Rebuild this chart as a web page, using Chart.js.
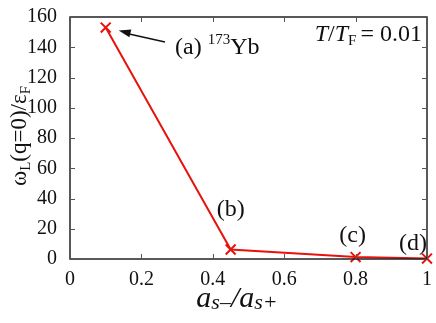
<!DOCTYPE html>
<html>
<head>
<meta charset="utf-8">
<script src="https://cdn.jsdelivr.net/npm/chart.js@4/dist/chart.umd.min.js"></script>
<style>
  html, body { margin: 0; padding: 0; background: #fff; }
  #wrap { width: 436px; height: 323px; }
</style>
</head>
<body>
<div id="wrap"><canvas id="chart" width="436" height="323"></canvas></div>
<script>
// data
const ratio = [0.1, 0.45, 0.8, 1.0];
const omegaL = [153, 6.3, 1.3, 0.3];
const xTicks = [0, 0.2, 0.4, 0.6, 0.8, 1];
const yTicks = [0, 20, 40, 60, 80, 100, 120, 140, 160];
const pointLabels = ['(a)', '(b)', '(c)', '(d)'];

const SERIF = '"Liberation Serif", "DejaVu Serif", serif';
const RED = '#e8120c';

// text helper: draws a run of pieces, each with its own font and vertical shift
function drawRuns(ctx, runs, x, y, align) {
    let total = 0;
    runs.forEach(r => { ctx.font = r.font; total += ctx.measureText(r.text).width + (r.gap || 0); });
    let cx = align === 'center' ? x - total / 2 : (align === 'right' ? x - total : x);
    ctx.textAlign = 'left';
    ctx.textBaseline = 'alphabetic';
    runs.forEach(r => {
        ctx.font = r.font;
        ctx.fillText(r.text, cx, y + (r.dy || 0));
        cx += ctx.measureText(r.text).width + (r.gap || 0);
    });
}

const decorations = {
    id: 'decorations',
    afterDraw(chart) {
        const { ctx, chartArea: a, scales: { x, y } } = chart;
        ctx.save();
        // frame
        ctx.strokeStyle = '#222';
        ctx.lineWidth = 1.5;
        ctx.strokeRect(a.left, a.top, a.right - a.left, a.bottom - a.top);
        // inward ticks
        ctx.lineWidth = 1;
        ctx.strokeStyle = '#555';
        xTicks.forEach(v => {
            const px = Math.round(x.getPixelForValue(v)) + 0.5;
            ctx.beginPath();
            ctx.moveTo(px, a.bottom); ctx.lineTo(px, a.bottom - 5);
            ctx.moveTo(px, a.top); ctx.lineTo(px, a.top + 5);
            ctx.stroke();
        });
        yTicks.forEach(v => {
            const py = Math.round(y.getPixelForValue(v)) + 0.5;
            ctx.beginPath();
            ctx.moveTo(a.left, py); ctx.lineTo(a.left + 5, py);
            ctx.moveTo(a.right, py); ctx.lineTo(a.right - 5, py);
            ctx.stroke();
        });

        ctx.fillStyle = '#111';
        // point labels
        const big = '24px ' + SERIF;
        const sup = '15px ' + SERIF;
        drawRuns(ctx, [
            { text: pointLabels[0] + ' ', font: big },
            { text: '173', font: sup, dy: -10 },
            { text: 'Yb', font: big }
        ], 175, 54, 'left');
        ctx.font = big;
        ctx.textAlign = 'center';
        ctx.fillText(pointLabels[1], x.getPixelForValue(ratio[1]), 216);
        ctx.fillText(pointLabels[2], x.getPixelForValue(ratio[2]) - 3, 242);
        ctx.fillText(pointLabels[3], x.getPixelForValue(ratio[3]) - 14, 250);

        // arrow to point (a)
        const hx = x.getPixelForValue(ratio[0]) + 13, hy = y.getPixelForValue(omegaL[0]) + 3;
        const tx = 165, ty = 42;
        ctx.strokeStyle = '#111';
        ctx.lineWidth = 1.5;
        ctx.beginPath(); ctx.moveTo(tx, ty); ctx.lineTo(hx + 6, hy + 2.5); ctx.stroke();
        const ang = Math.atan2(hy - ty, hx - tx);
        ctx.beginPath();
        ctx.moveTo(hx, hy);
        ctx.lineTo(hx - 12 * Math.cos(ang) + 4 * Math.sin(ang), hy - 12 * Math.sin(ang) - 4 * Math.cos(ang));
        ctx.lineTo(hx - 12 * Math.cos(ang) - 4 * Math.sin(ang), hy - 12 * Math.sin(ang) + 4 * Math.cos(ang));
        ctx.closePath();
        ctx.fill();

        // temperature note
        drawRuns(ctx, [
            { text: 'T', font: 'italic 24px ' + SERIF },
            { text: '/', font: '24px ' + SERIF },
            { text: 'T', font: 'italic 24px ' + SERIF },
            { text: 'F', font: '15px ' + SERIF, dy: 4, gap: 4 },
            { text: '= 0.01', font: '24px ' + SERIF }
        ], 422, 41, 'right');

        // x axis title
        drawRuns(ctx, [
            { text: 'a', font: 'italic 30px ' + SERIF },
            { text: 's–', font: 'italic 22px ' + SERIF, dy: 2 },
            { text: '/', font: 'italic 30px ' + SERIF },
            { text: 'a', font: 'italic 30px ' + SERIF },
            { text: 's+', font: 'italic 22px ' + SERIF, dy: 2 }
        ], 237, 307, 'center');

        // y axis title
        ctx.translate(26, 136);
        ctx.rotate(-Math.PI / 2);
        drawRuns(ctx, [
            { text: 'ω', font: '23px ' + SERIF },
            { text: 'L', font: '15px ' + SERIF, dy: 4 },
            { text: '(q=0)/ε', font: '23px ' + SERIF },
            { text: 'F', font: '15px ' + SERIF, dy: 4 }
        ], 0, 0, 'center');
        ctx.restore();
    }
};

new Chart(document.getElementById('chart'), {
    type: 'scatter',
    data: {
        datasets: [{
            data: ratio.map((r, i) => ({ x: r, y: omegaL[i] })),
            showLine: true,
            borderColor: RED,
            backgroundColor: RED,
            borderWidth: 2,
            pointStyle: 'crossRot',
            pointRadius: 7,
            pointBorderWidth: 2,
            clip: false
        }]
    },
    options: {
        responsive: false,
        animation: false,
        layout: { padding: { left: 0, right: 6, top: 10, bottom: 0 } },
        scales: {
            x: {
                type: 'linear',
                min: 0, max: 1,
                afterBuildTicks: s => { s.ticks = xTicks.map(v => ({ value: v })); },
                afterFit: s => { s.height = 64; },
                grid: { display: false },
                border: { display: false },
                ticks: {
                    color: '#111',
                    padding: 1,
                    maxRotation: 0,
                    font: { family: SERIF, size: 20 },
                    callback: v => String(v)
                }
            },
            y: {
                min: 0, max: 160,
                afterBuildTicks: s => { s.ticks = yTicks.map(v => ({ value: v })); },
                afterFit: s => { s.width = 70; },
                grid: { display: false },
                border: { display: false },
                ticks: {
                    color: '#111',
                    padding: 5,
                    font: { family: SERIF, size: 20 }
                }
            }
        },
        plugins: {
            legend: { display: false },
            tooltip: { enabled: false }
        }
    },
    plugins: [decorations]
});
</script>
</body>
</html>
